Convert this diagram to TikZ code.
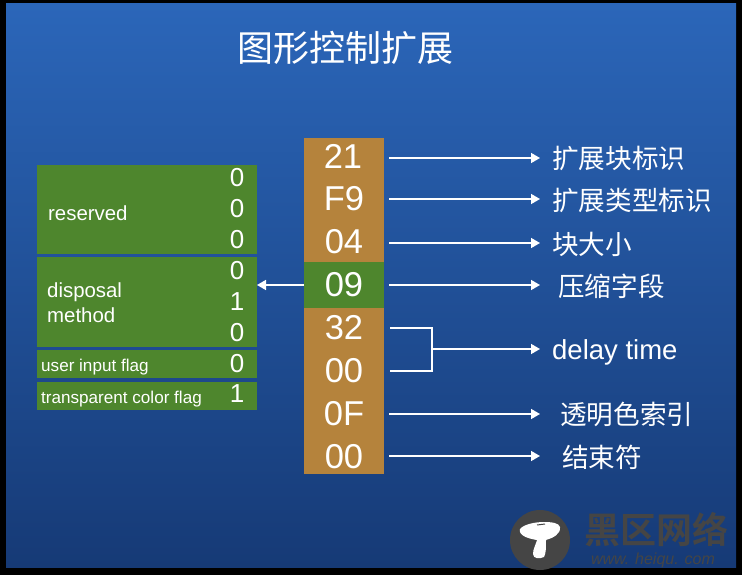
\documentclass[tikz,border=0pt]{standalone}
\usepackage{fontspec}
\setmainfont{Liberation Sans}
\newfontfamily\cjk{Noto Sans CJK SC}
\newfontfamily\cjkb{Noto Sans CJK SC Bold}
\usetikzlibrary{arrows.meta}
\definecolor{brownc}{HTML}{B5833C}
\definecolor{greenc}{HTML}{4E862D}
\definecolor{bgtop}{HTML}{2B66B9}
\definecolor{bgbot}{HTML}{163A76}
\definecolor{wmark}{HTML}{454545}
\tikzset{
 cell/.style={minimum width=80pt,minimum height=43pt,inner sep=0pt,outer sep=0pt,text=white,font=\fontsize{34.5}{34.5}\selectfont},
 bitbox/.style={fill=greenc,inner sep=0pt,outer sep=0pt,minimum width=220pt,anchor=north west},
 lab/.style={text=white,anchor=west,inner sep=0pt,font=\fontsize{26.6}{26.6}\selectfont\cjk},
 small/.style={text=white,anchor=west,inner sep=0pt,font=\fontsize{20.4}{20.4}\selectfont},
 tiny/.style={text=white,anchor=west,inner sep=0pt,font=\fontsize{17.1}{17.1}\selectfont},
 bit/.style={text=white,inner sep=0pt,font=\fontsize{26}{26}\selectfont},
 conn/.style={draw=white,line width=1.6pt},
 arr/.style={conn,-{Triangle[length=9pt,width=10pt]}},
}
\begin{document}
\begin{tikzpicture}[x=1pt,y=-1pt]
\useasboundingbox (0,0) rectangle (742,575);
\fill[black] (0,0) rectangle (742,575);
\shade[top color=bgtop,bottom color=bgbot] (6,4) rectangle (736,567);
\node[text=white,inner sep=0pt,font=\fontsize{36}{36}\selectfont\cjk] (title) at (345,48) {图形控制扩展};
% byte column
\fill[brownc] (304,138) rectangle (384,474);
\fill[greenc] (304,262) rectangle (384,308);
\node[cell] (c1) at (343,156) {21};
\node[cell] (c2) at (344,199) {F9};
\node[cell] (c3) at (344,242) {04};
\node[cell] (c4) at (344,285) {09};
\node[cell] (c5) at (344,328) {32};
\node[cell] (c6) at (344,371) {00};
\node[cell] (c7) at (344,414) {0F};
\node[cell] (c8) at (344,457) {00};
% labels
\node[lab] (l1) at (552,158) {扩展块标识};
\node[lab] (l2) at (552,200) {扩展类型标识};
\node[lab] (l3) at (552,244) {块大小};
\node[lab] (l4) at (558,286) {压缩字段};
\node[text=white,anchor=west,inner sep=0pt,font=\fontsize{27.5}{27.5}\selectfont] (l5) at (552,352) {delay time};
\node[lab] (l7) at (560,414) {透明色索引};
\node[lab] (l8) at (562,457) {结束符};
% connector ends
\coordinate (e1) at (540,158);
\coordinate (e2) at (540,199);
\coordinate (e3) at (540,243);
\coordinate (e4) at (540,285);
\coordinate (e5) at (540,349);
\coordinate (e7) at (540,414);
\coordinate (e8) at (540,456);
\coordinate (s1) at (389,158);
\coordinate (s2) at (389,199);
\coordinate (s3) at (389,243);
\coordinate (s4) at (389,285);
\coordinate (s5) at (390,328);
\coordinate (s6) at (390,371);
\coordinate (s7) at (389,414);
\coordinate (s8) at (389,456);
\coordinate (j) at (432,349);
\draw[arr] (s1) -- (e1);
\draw[arr] (s2) -- (e2);
\draw[arr] (s3) -- (e3);
\draw[arr] (s4) -- (e4);
\draw[arr] (s7) -- (e7);
\draw[arr] (s8) -- (e8);
\draw[conn] (s5) -| (j) |- (s6);
\draw[arr] (j) -- (e5);
% bit boxes
\node[bitbox,minimum height=89pt] (b1) at (37,165) {};
\node[bitbox,minimum height=90pt] (b2) at (37,257) {};
\node[bitbox,minimum height=28pt] (b3) at (37,350) {};
\node[bitbox,minimum height=28pt] (b4) at (37,382) {};
\draw[arr] (c4.west) -- (c4.west -| b2.east);
\node[small] (t1) at (48,213) {reserved};
\node[small] (t2) at (47,292) {disposal};
\node[small] (t3) at (47,315) {method};
\node[tiny] (t4) at (41,367) {user input flag};
\node[tiny] (t5) at (41,399) {transparent color flag};
\node[bit] (n1) at (237,178) {0};
\node[bit] (n2) at (237,209) {0};
\node[bit] (n3) at (237,240) {0};
\node[bit] (n4) at (237,271) {0};
\node[bit] (n5) at (237,302) {1};
\node[bit] (n6) at (237,333) {0};
\node[bit] (n7) at (237,364) {0};
\node[bit] (n8) at (237,394) {1};
% watermark
\fill[wmark] (540,540) circle (30);
\fill[white] (520,529) .. controls (524,524) and (536,522) .. (544,522) .. controls (552,522) and (559,523) .. (560,527) .. controls (561,534) and (553,538) .. (546,540) .. controls (546,547) and (546,554) .. (544,557) .. controls (540,559) and (533,559) .. (533,554) .. controls (533,549) and (536,544) .. (537,540) .. controls (530,539) and (518,536) .. (520,529) -- cycle;
\draw[wmark,line width=1pt] (537,525) -- (545,524);
\node[text=wmark,inner sep=0pt,font=\fontsize{36}{36}\selectfont\cjkb] (wm1) at (656,530) {黑区网络};
\node[text=wmark,inner sep=0pt,font=\fontsize{16}{16}\selectfont\itshape] (wm2) at (653,560) {www. heiqu. com};
\end{tikzpicture}
\end{document}
